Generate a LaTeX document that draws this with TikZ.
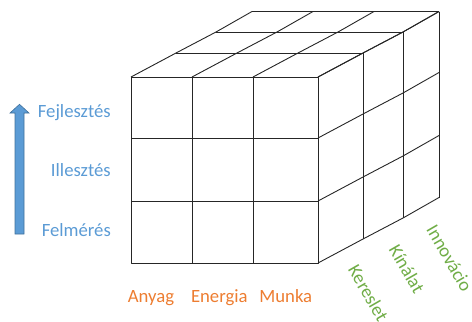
\documentclass[tikz,border=0pt]{standalone}
\usepackage{fontspec}
\setmainfont{Carlito}
\definecolor{levelblue}{HTML}{5B9BD5}
\definecolor{levelborder}{HTML}{41719C}
\definecolor{inputorange}{HTML}{ED7D31}
\definecolor{marketgreen}{HTML}{70AD47}
\begin{document}
\begin{tikzpicture}[x=1bp,y=-1bp,
  gridline/.style={line width=0.9bp, black!85, line join=round},
  lbl/.style={inner sep=0pt, font=\fontsize{18.7bp}{22bp}\selectfont},
  levellbl/.style={lbl, text=levelblue, anchor=base east},
  inputlbl/.style={lbl, text=inputorange, anchor=base},
  marketlbl/.style={lbl, text=marketgreen, rotate=-60}]
\useasboundingbox (0,0) rectangle (472,321);
\clip (0,0) rectangle (472,321);

% front face
\draw[gridline] (131,77) rectangle (318,263);
\foreach \x in {192,253} \draw[gridline] (\x,77) -- (\x,263);
\foreach \y in {138,201} \draw[gridline] (131,\y) -- (318,\y);

% top face: edges running backwards from the front top edge
\foreach \x in {131,192,253,318}
  \draw[gridline] (\x,77) -- ({\x+45},53) -- ({\x+85},32) -- ({\x+121},11.5);
% top face: lines across at each depth layer
\foreach \ox/\oy in {45/-24,85/-45,121/-65.5}
  \draw[gridline] ({131+\ox},{77+\oy}) -- ({318+\ox},{77+\oy});

% right face: edges running backwards from the front right edge
\foreach \y in {77,138,201,263}
  \draw[gridline] (318,\y) -- (363,{\y-24}) -- (403,{\y-45}) -- (439,{\y-65.5});
% right face: verticals at each depth layer
\foreach \ox/\oy in {45/-24,85/-45,121/-65.5}
  \draw[gridline] ({318+\ox},{77+\oy}) -- ({318+\ox},{263+\oy});

% upward block arrow
\draw[fill=levelblue, draw=levelborder, line width=0.6bp]
  (15,234) -- (15,113) -- (10,113) -- (19.5,104.3) -- (29,113) -- (24,113) -- (24,234) -- cycle;

% level labels
\node[levellbl] (fejl) at (111,117.3) {Fejlesztés};
\node[levellbl] (ill) at (111,176) {Illesztés};
\node[levellbl] (felm) at (111,236.7) {Felmérés};

% input labels
\node[inputlbl] (anyag) at (151,302.7) {Anyag};
\node[inputlbl] (energia) at (219.3,302.7) {Energia};
\node[inputlbl] (munka) at (285.8,302.7) {Munka};

% market labels
\node[marketlbl] (kereslet) at (368.4,293.2) {Kereslet};
\node[marketlbl] (kinalat) at (407,269) {Kínálat};
\node[marketlbl] (innovacio) at (449.6,258.2) {Innovácio};
\end{tikzpicture}
\end{document}
